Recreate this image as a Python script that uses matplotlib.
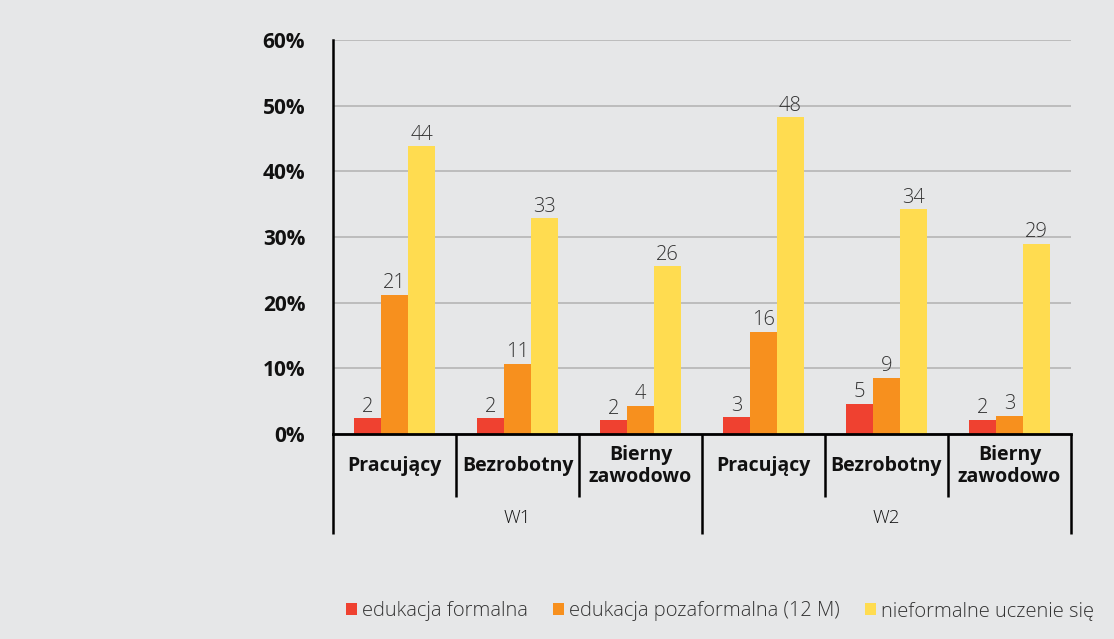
import matplotlib
matplotlib.use("Agg")
import matplotlib.pyplot as plt
import matplotlib.transforms as mtransforms
from matplotlib.patches import Patch
import numpy as np

plt.rcParams['font.family'] = ['Open Sans', 'DejaVu Sans']

categories = ["Pracujący", "Bezrobotny", "Bierny\nzawodowo",
              "Pracujący", "Bezrobotny", "Bierny\nzawodowo"]
groups = ["W1", "W2"]
series_names = ["edukacja formalna", "edukacja pozaformalna (12 M)", "nieformalne uczenie się"]
formal = [2.4, 2.4, 2.1, 2.6, 4.6, 2.2]
nonformal = [21.2, 10.7, 4.3, 15.6, 8.6, 2.8]
informal = [43.8, 32.9, 25.6, 48.2, 34.2, 29.0]
yticks = [0, 10, 20, 30, 40, 50, 60]
ytick_labels = ["0%", "10%", "20%", "30%", "40%", "50%", "60%"]

colors = ["#ef4130", "#f7901e", "#ffdc50"]
bg = "#e6e7e8"

fig = plt.figure(figsize=(11.14, 6.39), dpi=100, facecolor=bg)
ax = fig.add_axes([333/1114, 1-434/639, (1071-333)/1114, (434-40)/639])
ax.set_facecolor(bg)

x = np.arange(len(categories))
w = 0.22
for i, (vals, c) in enumerate(zip([formal, nonformal, informal], colors)):
    pos = x + (i - 1) * w
    ax.bar(pos, vals, width=w, color=c, zorder=3, label=series_names[i])
    for xp, v in zip(pos, vals):
        ax.text(xp, v + 0.2, f"{round(v):d}", ha="center", va="bottom",
                fontsize=14.5, fontweight="light", color="#333333", zorder=4)

ax.set_xlim(-0.5, len(categories) - 0.5)
ax.set_ylim(0, 60)
ax.set_yticks(yticks)
ax.set_yticklabels(ytick_labels, fontsize=15, fontweight="bold", color="#111111")
ax.tick_params(axis="y", length=0, pad=20)
ax.set_xticks([])
ax.grid(axis="y", color="#b5b5b5", linewidth=1.2, zorder=0)
for s in ["top", "right"]:
    ax.spines[s].set_visible(False)
ax.spines["left"].set_linewidth(1.8)
ax.spines["bottom"].set_linewidth(2.0)
ax.spines["left"].set_zorder(5)
ax.spines["bottom"].set_zorder(5)

trans = mtransforms.blended_transform_factory(ax.transData, ax.transAxes)
short = -63/394
long_ = -100/394
for b in np.arange(-0.5, len(categories), 1.0):
    bottom = long_ if b in (-0.5, 2.5, 5.5) else short
    ax.plot([b, b], [0, bottom], transform=trans, color="black", lw=1.8,
            clip_on=False, solid_capstyle="butt")
for xi, lab in zip(x, categories):
    ax.text(xi, -32/394, lab, transform=trans, ha="center", va="center",
            fontsize=14, fontweight="bold", color="#111111", linespacing=1.1)
for gi, g in enumerate(groups):
    ax.text(gi * 3 + 1, -84/394, g, transform=trans, ha="center", va="center",
            fontsize=13.5, fontweight="light", color="#111111")

handles = [Patch(facecolor=c, edgecolor="none") for c in colors]
fig.legend(handles, series_names, loc="center left", bbox_to_anchor=(346/1114, 1-611/639),
           ncol=3, frameon=False, handlelength=0.55, handleheight=0.55,
           handletextpad=0.25, columnspacing=1.25, borderaxespad=0, borderpad=0,
           prop={"weight": "light", "size": 14.5})
for t in fig.legends[0].get_texts():
    t.set_color("#333333")

fig.savefig("out.png", dpi=100, facecolor=bg)
